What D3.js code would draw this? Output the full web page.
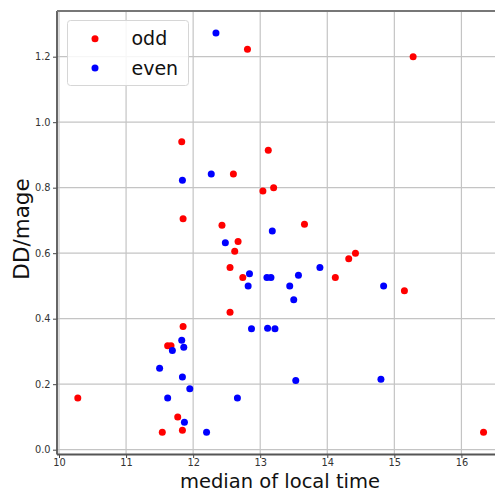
<!DOCTYPE html>
<html>
<head>
<meta charset="utf-8">
<script src="https://cdn.jsdelivr.net/npm/d3@7"></script>
<style>
  html, body { margin: 0; padding: 0; background: #fff; }
  svg { display: block; font-family: "DejaVu Sans", sans-serif; }
</style>
</head>
<body>
<svg id="chart" width="495" height="492"></svg>
<script>
// ---- data ----
const oddX = [12.81, 15.28, 11.83, 13.12, 12.60, 13.20, 13.04, 11.85, 13.66, 12.43, 12.67, 12.62, 14.42, 14.32, 12.55, 12.74, 14.12, 15.15, 12.55, 11.85, 11.62, 11.67, 10.28, 11.77, 11.84, 11.54, 16.33];
const oddY = [1.223, 1.200, 0.940, 0.914, 0.842, 0.800, 0.790, 0.705, 0.688, 0.685, 0.636, 0.606, 0.600, 0.583, 0.556, 0.526, 0.526, 0.485, 0.420, 0.376, 0.317, 0.317, 0.158, 0.100, 0.059, 0.053, 0.053];
const evenX = [12.34, 12.27, 11.84, 13.18, 12.48, 13.89, 12.84, 13.57, 13.10, 13.16, 12.82, 13.44, 14.84, 13.50, 12.87, 13.11, 13.22, 11.83, 11.86, 11.69, 11.50, 11.84, 11.95, 13.53, 14.80, 11.62, 12.66, 11.87, 12.20];
const evenY = [1.272, 0.842, 0.823, 0.668, 0.632, 0.556, 0.537, 0.533, 0.526, 0.526, 0.500, 0.500, 0.500, 0.458, 0.369, 0.371, 0.369, 0.334, 0.313, 0.303, 0.249, 0.222, 0.186, 0.211, 0.215, 0.158, 0.158, 0.084, 0.053];
const xTicks = [10, 11, 12, 13, 14, 15, 16];
const yTicks = [0.0, 0.2, 0.4, 0.6, 0.8, 1.0, 1.2];
const seriesNames = ["odd", "even"];
const seriesColors = ["#ff0000", "#0000ff"];
const xLabel = "median of local time";
const yLabel = "DD/mage";

// ---- layout ----
const plot = { left: 57, top: 11, right: 503, bottom: 454.5 };
const svg = d3.select("#chart");

const x = d3.scaleLinear().domain([9.97, 16.62]).range([plot.left, plot.right]);
const y = d3.scaleLinear().domain([-0.0147, 1.3395]).range([plot.bottom, plot.top]);

// grid
const grid = svg.append("g");
grid.selectAll("line.gx").data(xTicks).join("line")
  .attr("x1", d => x(d)).attr("x2", d => x(d))
  .attr("y1", plot.top).attr("y2", plot.bottom)
  .attr("stroke", "#c4c4c4").attr("stroke-width", 1.2);
grid.selectAll("line.gy").data(yTicks).join("line")
  .attr("x1", plot.left).attr("x2", plot.right)
  .attr("y1", d => y(d)).attr("y2", d => y(d))
  .attr("stroke", "#c4c4c4").attr("stroke-width", 1.2);

// axes
const xAxis = d3.axisBottom(x).tickValues(xTicks).tickFormat(d3.format("d")).tickSizeOuter(0).tickSize(3.5).tickPadding(1.5);
const yAxis = d3.axisLeft(y).tickValues(yTicks).tickFormat(d3.format(".1f")).tickSizeOuter(0).tickSize(4).tickPadding(2.5);

const gx = svg.append("g").attr("transform", `translate(0,${plot.bottom})`).call(xAxis);
const gy = svg.append("g").attr("transform", `translate(${plot.left},0)`).call(yAxis);
[gx, gy].forEach(g => {
  g.select(".domain").remove();
  g.selectAll(".tick line").attr("stroke", "#444").attr("stroke-width", 1);
  g.selectAll(".tick text").attr("fill", "#333").style("font-size", "9.8px").style("font-family", "DejaVu Sans");
});

// spines
svg.append("line").attr("x1", plot.left).attr("x2", plot.left).attr("y1", plot.top).attr("y2", plot.bottom)
  .attr("stroke", "#555").attr("stroke-width", 1.8);
svg.append("line").attr("x1", plot.left).attr("x2", plot.right).attr("y1", plot.bottom).attr("y2", plot.bottom)
  .attr("stroke", "#555").attr("stroke-width", 1.8);
svg.append("line").attr("x1", plot.left).attr("x2", plot.right).attr("y1", plot.top).attr("y2", plot.top)
  .attr("stroke", "#777").attr("stroke-width", 1.8);

// points
const series = [
  { xs: oddX, ys: oddY },
  { xs: evenX, ys: evenY }
];
series.forEach((s, i) => {
  const pts = s.xs.map((v, k) => [v, s.ys[k]]);
  svg.append("g").selectAll("circle").data(pts).join("circle")
    .attr("cx", d => x(d[0])).attr("cy", d => y(d[1]))
    .attr("r", 3.5).attr("fill", seriesColors[i]);
});

// axis labels
svg.append("text").attr("x", 280).attr("y", 487.5).attr("text-anchor", "middle")
  .style("font-size", "19.5px").attr("fill", "#111").text(xLabel);
svg.append("text").attr("transform", "translate(28.5,229) rotate(-90)").attr("text-anchor", "middle")
  .style("font-size", "21.5px").attr("fill", "#111").text(yLabel);

// legend
const lg = svg.append("g");
lg.append("rect").attr("x", 67.5).attr("y", 20.5).attr("width", 121).attr("height", 65)
  .attr("rx", 3).attr("fill", "rgba(255,255,255,0.85)").attr("stroke", "#d6d6d6").attr("stroke-width", 1);
seriesNames.forEach((n, i) => {
  const cy = 38.7 + i * 29.3;
  lg.append("circle").attr("cx", 95).attr("cy", cy).attr("r", 3.5).attr("fill", seriesColors[i]);
  lg.append("text").attr("x", 131.5).attr("y", cy + 6.5).style("font-size", "19px").attr("fill", "#111").text(n);
});
</script>
</body>
</html>
